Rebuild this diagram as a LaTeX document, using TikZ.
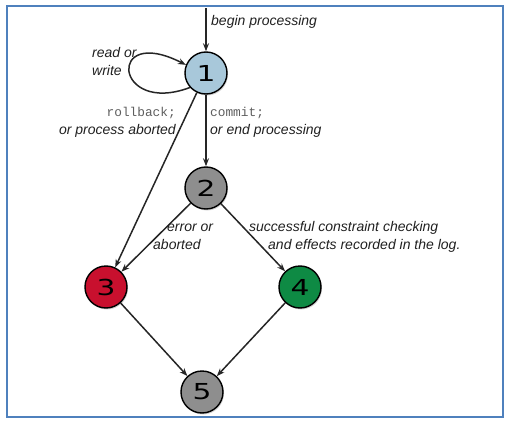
\documentclass[tikz,border=0pt]{standalone}
\usepackage{fontspec}
\setmainfont{Liberation Sans}
\newfontfamily\monof{Liberation Mono}
\newfontfamily\digitf{DejaVu Sans}
\usetikzlibrary{arrows.meta,shadows}
\definecolor{frameblue}{HTML}{4F81BD}
\definecolor{sblue}{HTML}{A8C8DA}
\definecolor{sgray}{HTML}{8E8E8E}
\definecolor{sred}{HTML}{C8102E}
\definecolor{sgreen}{HTML}{0E8A44}
\definecolor{txt}{HTML}{202020}
\definecolor{codegray}{HTML}{5E5E5E}
\tikzset{
  state/.style={circle,draw=black,line width=1.4pt,minimum size=42pt,inner sep=0pt,
    font=\digitf\fontsize{22}{22}\selectfont,
    drop shadow={shadow xshift=1pt,shadow yshift=-1.5pt,opacity=0.35}},
  arr/.style={draw=black!85,line width=1.5pt,-{Stealth[length=8pt,width=6pt]}},
  lbl/.style={font=\itshape\fontsize{14}{18}\selectfont,text=txt,inner sep=0pt},
}
\newcommand{\dg}[1]{\scalebox{1.35}[1]{#1}}
\newcommand{\cd}[1]{{\upshape\monof\fontsize{12.8}{18}\selectfont\color{codegray}#1}}
\begin{document}
\begin{tikzpicture}[x=1pt,y=-1pt]
\useasboundingbox (0,0) rectangle (512,431);
\draw[frameblue,line width=2pt] (7,6) rectangle (503,417);
\node[state,fill=sblue] (n1) at (206,73) {\dg{1}};
\node[state,fill=sgray] (n2) at (206,188) {\dg{2}};
\node[state,fill=sred] (n3) at (106,287) {\dg{3}};
\node[state,fill=sgreen] (n4) at (300,287) {\dg{4}};
\node[state,fill=sgray] (n5) at (202,392) {\dg{5}};
\coordinate (start) at (206,8);
\draw[arr] (start) -- (n1);
\node[lbl,anchor=west] (lbegin) at (211,22) {begin processing};
\draw[arr] (n1.222) .. controls (114,116) and (106,24) .. (n1.158);
\node[lbl,align=left,anchor=west] (lrw) at (92,61) {read or\\write};
\draw[arr] (n1) -- (n3);
\node[lbl,align=right,anchor=east] (lrb) at (176,122) {\cd{rollback;}\\or process aborted};
\draw[arr] (n1) -- (n2);
\node[lbl,align=left,anchor=west] (lcm) at (210,122) {\cd{commit;}\\or end processing};
\draw[arr] (n2) -- (n3);
\node[lbl,align=left,anchor=west] (ler) at (153,237) {\hspace*{14pt}error or\\aborted};
\draw[arr] (n2) -- (n4);
\node[lbl,align=left,anchor=west] (lsc) at (249,237) {successful constraint checking\\\hspace*{19pt}and effects recorded in the log.};
\draw[arr] (n3) -- (n5);
\draw[arr] (n4) -- (n5);
\end{tikzpicture}
\end{document}
